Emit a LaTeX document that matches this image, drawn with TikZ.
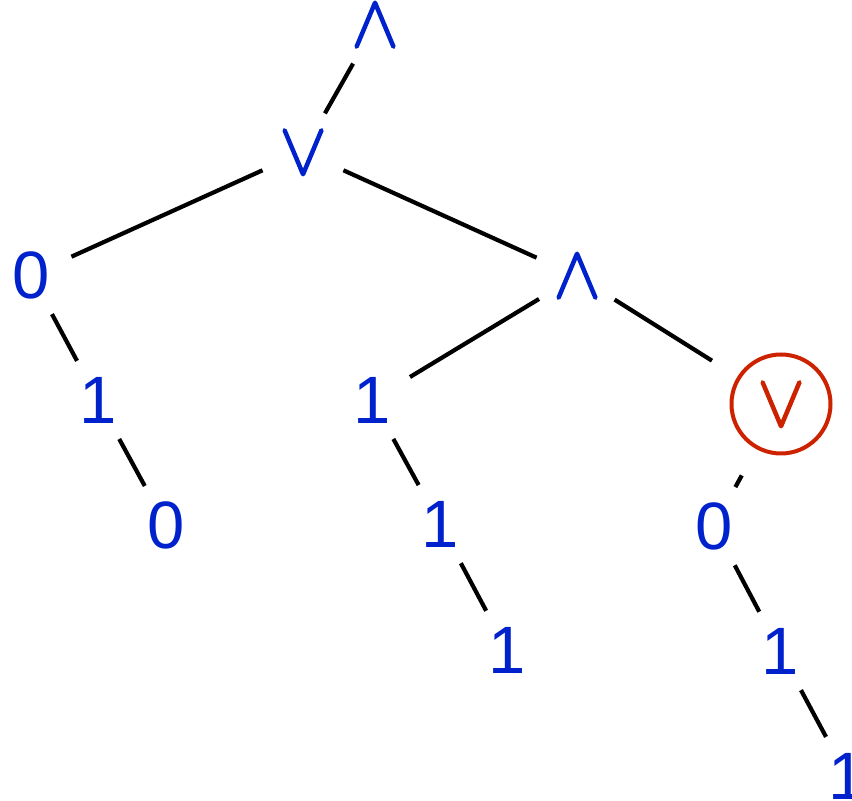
\documentclass[tikz,border=0pt]{standalone}
\usepackage{fontspec}
\setmainfont{Liberation Sans}
% thin, wide logic signs from the math font, thickened a little
\newfontfamily\opfont{latinmodern-math.otf}[FakeBold=2]
\definecolor{nodeblue}{RGB}{0,34,204}
\definecolor{markred}{RGB}{204,34,0}
\begin{document}
\begin{tikzpicture}[x=0.5pt,y=-0.5pt,
  val/.style={circle, inner sep=0pt, minimum size=44pt, text=nodeblue,
    font=\fontsize{33.5}{40}\selectfont},
  op/.style={val, font=\opfont\fontsize{37.5}{44}\selectfont},
  flagged/.style={draw=markred, line width=2pt, text=markred,
    minimum size=49.5pt, outer sep=16pt},
  link/.style={line width=2.1pt, black}]
\useasboundingbox (0,0) rectangle (852,801);
% operators
\node[op] (r) at (375,25) {∧};
\node[op] (a) at (303,152) {∨};
\node[op] (e) at (577,276) {∧};
\node[op,flagged] (i) at (781,404) {∨};
% left chain
\node[val] (b) at (31,275) {0};
\node[val] (c) at (98,400) {1};
\node[val] (d) at (166,525) {0};
% middle chain
\node[val] (f) at (372,400) {1};
\node[val] (g) at (440,524) {1};
\node[val] (h) at (507,650) {1};
% right chain
\node[val] (j) at (714,526) {0};
\node[val] (k) at (780,651) {1};
\node[val] (l) at (847,776) {1};
% edges
\draw[link] (r) -- (a);
\draw[link] (a) -- (b);
\draw[link] (a) -- (e);
\draw[link] (b) -- (c);
\draw[link] (c) -- (d);
\draw[link] (e) -- (f);
\draw[link] (e) -- (i);
\draw[link] (f) -- (g);
\draw[link] (g) -- (h);
\draw[link] (i) -- (j);
\draw[link] (j) -- (k);
\draw[link] (k) -- (l);
\end{tikzpicture}
\end{document}
